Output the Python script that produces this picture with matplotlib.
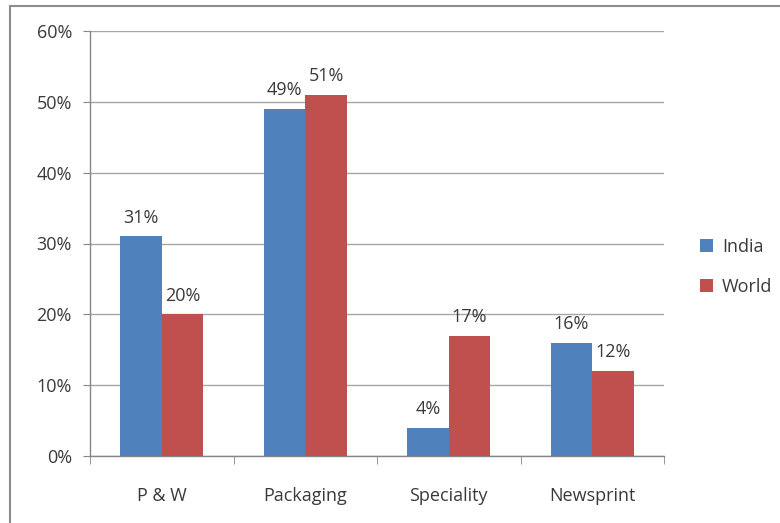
import matplotlib.pyplot as plt
from matplotlib.patches import Rectangle
import numpy as np

categories = ["P & W", "Packaging", "Speciality", "Newsprint"]
india = [31, 49, 4, 16]
world = [20, 51, 17, 12]
yticks = [0, 10, 20, 30, 40, 50, 60]

plt.rcParams['font.family'] = ['Open Sans', 'DejaVu Sans']
blue = "#4F81BD"
red = "#C0504D"
grey = "#868686"
txt = "#3A3A3A"
fs = 13

fig = plt.figure(figsize=(7.8, 5.23), dpi=100)
ax = fig.add_axes([90/780, 1-456/523, (664-90)/780, (456-31)/523])

x = np.arange(len(categories))
w = 0.29
b1 = ax.bar(x - w/2, india, w, color=blue, label="India", zorder=3)
b2 = ax.bar(x + w/2, world, w, color=red, label="World", zorder=3)

for bars, vals in ((b1, india), (b2, world)):
    for r, v in zip(bars, vals):
        ax.annotate("%d%%" % v, (r.get_x() + r.get_width()/2, v),
                    xytext=(0, 7), textcoords="offset points",
                    ha="center", va="bottom", fontsize=fs, color=txt)

ax.set_xlim(-0.5, 3.5)
ax.set_ylim(0, 60)
ax.set_yticks(yticks)
ax.set_yticklabels(["%d%%" % t for t in yticks])
ax.yaxis.grid(True, color="#A6A6A6", linewidth=1, zorder=0)
ax.set_axisbelow(True)

ax.set_xticks(x)
ax.set_xticklabels(categories)
ax.set_xticks(np.arange(-0.5, 4, 1), minor=True)
ax.tick_params(axis="x", which="major", length=0, pad=22, labelsize=fs, labelcolor=txt)
ax.tick_params(axis="x", which="minor", length=6, color=grey, direction="out")
ax.tick_params(axis="y", length=5, color=grey, pad=8, labelsize=fs, labelcolor=txt)

for s in ["top", "right"]:
    ax.spines[s].set_visible(False)
for s in ["left", "bottom"]:
    ax.spines[s].set_color(grey)
    ax.spines[s].set_linewidth(1)

leg = ax.legend(loc="center left", bbox_to_anchor=(1.035, 0.445), frameon=False,
                fontsize=fs, handlelength=0.7, handleheight=0.7, handletextpad=0.5,
                labelspacing=1.2, labelcolor=txt)

# outer chart frame
fig.patches.append(Rectangle((10/780, -0.05), 1.0, 1-6/523 + 0.05, transform=fig.transFigure,
                             fill=False, edgecolor="#8C8C8C", linewidth=1.5, clip_on=False))

fig.savefig("out.png", dpi=100)
